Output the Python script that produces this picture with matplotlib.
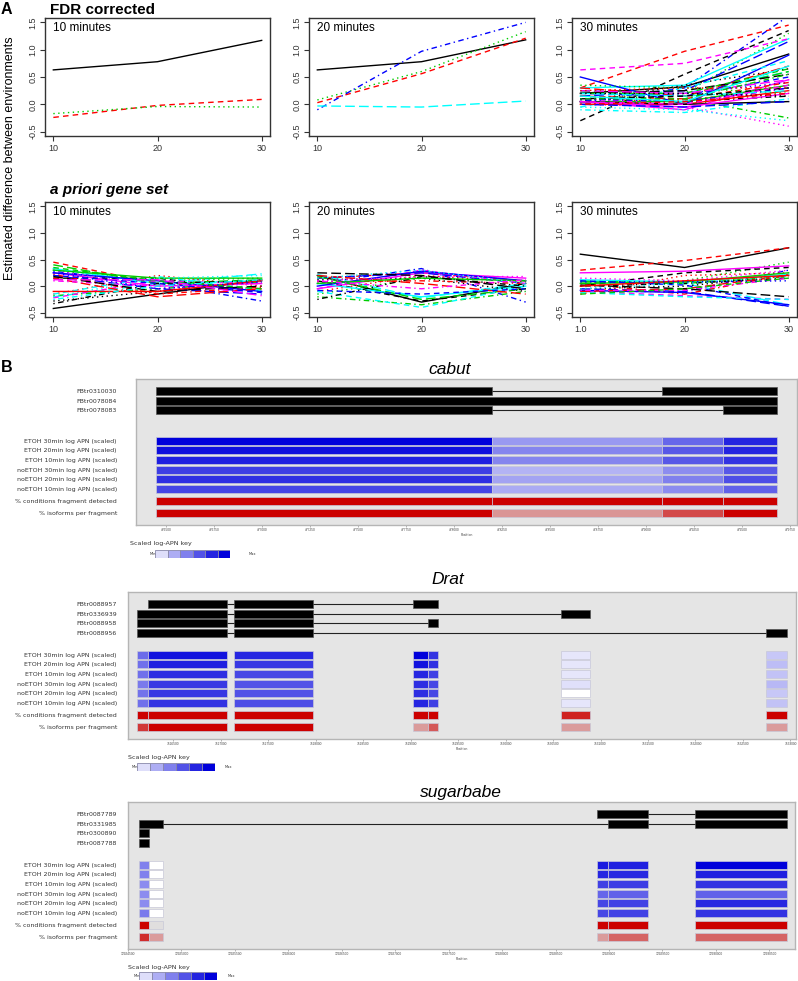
# Panel A: time course of estimated differences, panel B: fragment heatmaps for 3 genes
import matplotlib
matplotlib.use("Agg")
import matplotlib.pyplot as plt
import matplotlib.ticker as mticker
from matplotlib.patches import Rectangle

plt.rcParams['font.family'] = ['Liberation Sans', 'DejaVu Sans']

# ---------------- panel A data (one triple per gene: 10, 20, 30 min) ----------------
times = [10, 20, 30]
yticks = [-0.5, 0.0, 0.5, 1.0, 1.5]

fdr_10 = [[0.63, 0.78, 1.17], [-0.24, -0.02, 0.09], [-0.17, -0.04, -0.05]]
fdr_20 = [[0.63, 0.78, 1.18], [0.03, 0.56, 1.21], [0.08, 0.60, 1.33],
          [-0.10, 0.97, 1.50], [-0.03, -0.05, 0.06]]
fdr_30 = [[0.20, 0.32, 0.92], [0.30, 0.97, 1.45], [0.10, 0.20, 1.30], [0.05, 0.30, 1.62],
          [0.25, 0.20, 0.60], [0.05, -0.10, 0.45], [-0.30, 0.55, 1.35], [0.10, 0.05, 0.35],
          [0.15, 0.10, -0.25], [0.15, 0.25, 1.15], [0.30, 0.35, 1.20], [0.63, 0.75, 1.20],
          [0.05, 0.35, 0.65], [0.00, 0.10, 0.20], [0.25, 0.15, 0.60], [0.50, 0.00, 0.90],
          [-0.05, 0.30, 0.80], [0.00, -0.05, -0.40], [0.10, 0.05, 0.15], [0.30, 0.15, 0.70],
          [0.05, 0.05, 0.35], [0.20, 0.15, 0.50], [-0.05, -0.10, -0.30], [0.10, 0.00, 0.30],
          [0.20, 0.25, 0.55], [0.00, 0.00, 0.25], [0.20, 0.20, 0.65], [0.05, 0.20, 0.40],
          [-0.10, -0.15, 0.10], [0.25, 0.20, 0.45], [0.05, 0.00, 0.05], [0.15, 0.10, 0.40],
          [0.35, 0.30, 0.20], [0.10, 0.05, 0.30], [0.20, 0.15, 0.25], [0.05, -0.05, 0.20],
          [0.10, 0.15, 0.30], [0.25, 0.30, 0.30], [0.10, 0.10, 0.55], [0.00, -0.05, 0.05],
          [0.15, 0.05, 0.70], [0.05, 0.00, 0.35], [0.20, 0.20, 0.15], [0.00, 0.05, 0.20]]
apriori_10 = [[-0.42, -0.15, 0.12], [0.45, 0.05, -0.05], [0.30, 0.10, 0.15], [0.28, 0.05, -0.28],
              [-0.20, 0.05, 0.23], [0.25, 0.00, 0.05], [0.15, 0.15, -0.10], [-0.15, 0.20, 0.00],
              [-0.18, -0.05, 0.08], [0.20, -0.05, -0.15], [0.33, 0.05, 0.10], [-0.22, 0.10, 0.05],
              [-0.28, -0.10, 0.10], [0.22, -0.15, -0.02], [0.40, 0.05, 0.12], [0.25, 0.10, -0.10],
              [-0.15, 0.18, -0.08], [0.30, -0.05, 0.05], [-0.33, 0.05, 0.10], [0.15, -0.20, -0.05],
              [0.30, 0.15, 0.15], [0.20, 0.05, -0.12], [-0.20, 0.15, 0.20], [0.10, 0.00, 0.05],
              [0.18, -0.10, 0.00], [-0.10, -0.10, 0.10], [0.35, 0.10, -0.05], [0.25, -0.05, 0.08],
              [-0.25, 0.00, 0.12], [0.12, 0.12, -0.18]]
apriori_20 = [[0.20, -0.30, 0.05], [0.15, 0.25, 0.10], [-0.15, 0.15, 0.10], [0.05, 0.33, -0.30],
              [0.22, -0.22, 0.05], [-0.05, 0.25, 0.15], [0.10, -0.28, -0.05], [-0.10, 0.20, 0.08],
              [-0.20, -0.35, -0.10], [0.15, 0.25, 0.05], [0.05, -0.20, 0.00], [-0.05, 0.30, 0.05],
              [0.12, 0.15, -0.10], [0.08, 0.10, 0.05], [0.18, -0.25, -0.05], [0.00, 0.28, 0.10],
              [-0.10, -0.40, 0.00], [0.10, 0.18, 0.18], [-0.25, 0.18, 0.00], [0.20, 0.05, -0.15],
              [0.05, 0.15, 0.10], [-0.08, -0.15, -0.05], [0.15, 0.30, 0.05], [0.10, -0.05, 0.12],
              [0.25, 0.20, -0.05]]
apriori_30 = [[0.60, 0.35, 0.72], [0.30, 0.48, 0.72], [0.05, 0.10, 0.45], [-0.10, -0.10, 0.30],
              [0.10, 0.05, -0.35], [0.25, 0.28, 0.38], [0.00, 0.25, 0.35], [-0.15, 0.20, 0.25],
              [0.10, 0.05, 0.20], [-0.05, -0.10, -0.38], [0.12, 0.08, 0.22], [-0.10, -0.18, -0.25],
              [-0.05, 0.00, 0.20], [0.05, -0.15, 0.22], [0.08, 0.05, 0.18], [-0.08, -0.12, -0.35],
              [-0.12, -0.20, -0.25], [0.15, 0.10, 0.30], [0.00, 0.05, 0.15], [-0.10, -0.05, 0.20],
              [0.05, 0.08, 0.25], [0.10, 0.02, -0.38], [-0.05, 0.05, 0.18], [-0.08, -0.08, 0.15],
              [0.02, -0.05, -0.20], [0.00, 0.10, 0.20], [-0.15, -0.05, 0.15], [0.08, 0.08, 0.10]]

# ---------------- panel B data ----------------
row_labels = ["ETOH 30min log APN (scaled)", "ETOH 20min log APN (scaled)",
              "ETOH 10min log APN (scaled)", "noETOH 30min log APN (scaled)",
              "noETOH 20min log APN (scaled)", "noETOH 10min log APN (scaled)",
              "% conditions fragment detected", "% isoforms per fragment"]
key_levels = [0.13, 0.32, 0.50, 0.68, 0.86, 1.0]

cabut_xlim = (476344, 479786)
cabut_ticks = list(range(476500, 479751, 250))
cabut_tx = ["FBtr0310030", "FBtr0078084", "FBtr0078083"]
cabut_exons = [[(476450, 478200), (479085, 479680)],
               [(476450, 479680)],
               [(476450, 478200), (479400, 479680)]]
cabut_frags = [(476450, 478200), (478200, 479085), (479085, 479400), (479400, 479680)]
cabut_apn = [[1.00, 0.94, 0.88, 0.76, 0.82, 0.73],
             [0.40, 0.48, 0.48, 0.30, 0.36, 0.33],
             [0.60, 0.66, 0.66, 0.45, 0.50, 0.45],
             [0.86, 0.86, 0.80, 0.66, 0.70, 0.62]]
cabut_detect = [1.0, 1.0, 1.0, 1.0]
cabut_iso = [1.0, 0.33, 0.67, 1.0]

drat_xlim = (7526026, 7533058)
drat_ticks = list(range(7526500, 7533001, 500))
drat_tx = ["FBtr0088957", "FBtr0336939", "FBtr0088958", "FBtr0088956"]
drat_exons = [[(7526237, 7527068), (7527142, 7527974), (7529026, 7529289)],
              [(7526121, 7527068), (7527142, 7527974), (7530584, 7530889)],
              [(7526121, 7527068), (7527142, 7527974), (7529184, 7529289)],
              [(7526121, 7527068), (7527142, 7527974), (7532742, 7532963)]]
drat_frags = [(7526121, 7526237), (7526237, 7527068), (7527142, 7527974), (7529026, 7529184),
              (7529184, 7529289), (7530584, 7530889), (7532742, 7532963)]
drat_apn = [[0.58, 0.56, 0.56, 0.52, 0.55, 0.56],
            [0.93, 0.88, 0.82, 0.78, 0.78, 0.80],
            [0.85, 0.78, 0.72, 0.68, 0.68, 0.70],
            [1.00, 0.93, 0.85, 0.82, 0.82, 0.85],
            [0.80, 0.82, 0.75, 0.72, 0.72, 0.75],
            [0.10, 0.10, 0.10, 0.12, 0.00, 0.10],
            [0.22, 0.26, 0.24, 0.28, 0.22, 0.24]]
drat_detect = [1.0, 1.0, 1.0, 1.0, 1.0, 0.85, 1.0]
drat_iso = [0.75, 1.0, 1.0, 0.30, 0.60, 0.30, 0.30]

sugar_xlim = (12924500, 12930740)
sugar_ticks = list(range(12924500, 12930501, 500))
sugar_tx = ["FBtr0087789", "FBtr0331985", "FBtr0300890", "FBtr0087788"]
sugar_exons = [[(12928886, 12929364), (12929805, 12930667)],
               [(12924603, 12924828), (12928989, 12929364), (12929805, 12930667)],
               [(12924603, 12924697)],
               [(12924603, 12924697)]]
sugar_frags = [(12924603, 12924697), (12924697, 12924828), (12928886, 12928989),
               (12928989, 12929364), (12929805, 12930667)]
sugar_apn = [[0.50, 0.50, 0.45, 0.45, 0.45, 0.52],
             [0.0, 0.0, 0.0, 0.0, 0.0, 0.0],
             [0.90, 0.85, 0.75, 0.60, 0.72, 0.72],
             [0.88, 0.84, 0.76, 0.62, 0.74, 0.74],
             [1.00, 0.88, 0.80, 0.62, 0.84, 0.80]]
sugar_detect = [1.0, 0.0, 1.0, 1.0, 1.0]
sugar_iso = [0.80, 0.30, 0.30, 0.55, 0.55]

# ---------------- drawing ----------------
W, H = 798, 981
fig = plt.figure(figsize=(W / 100, H / 100), dpi=100)

r_cols = ["#000000", "#FF0000", "#00CD00", "#0000FF", "#00FFFF", "#FF00FF"]
r_lty = ["-", (0, (4, 3)), (0, (1, 2.5)), (0, (1, 2.5, 4, 2.5)), (0, (7, 3))]


def fig_ax(x0, y0, x1, y1):
    # axes from pixel box (top-left origin)
    return fig.add_axes([x0 / W, 1 - y1 / H, (x1 - x0) / W, (y1 - y0) / H])


def r_panel(box, series, label, xlabels=("10", "20", "30")):
    ax = fig_ax(*box)
    for k, vals in enumerate(series):
        ax.plot(times, vals, color=r_cols[k % 6], ls=r_lty[k % 5], lw=1.0)
    ax.set_xlim(9.2, 30.8)
    ax.set_ylim(-0.58, 1.58)
    ax.set_xticks(times, list(xlabels))
    ax.set_yticks(yticks, ["-0.5", "0.0", "0.5", "1.0", "1.5"])
    ax.tick_params(direction='out', length=3.5, width=0.8, labelsize=6.5, pad=2,
                   color='#333333', labelcolor='#333333')
    ax.tick_params(axis='y', labelrotation=90)
    for lbl in ax.get_yticklabels():
        lbl.set_va('center')
    for s in ax.spines.values():
        s.set_linewidth(1.0)
        s.set_color('#333333')
    ax.text(0.035, 0.965, label, transform=ax.transAxes, ha='left', va='top', fontsize=8.5)
    return ax


def blue(v):
    return (1 - v, 1 - v, 1 - 0.14 * v)


def red(v):
    return (0.88 - 0.08 * v, 0.87 * (1 - v), 0.87 * (1 - v))


def gene_panel(box, xlim, ticks, names, exons, frags, apn, detected, isoforms):
    x0, y0, x1, y1 = box
    ax = fig_ax(*box)
    hgt = y1 - y0
    ax.set_xlim(*xlim)
    ax.set_ylim(hgt, 0)
    ax.set_facecolor('#e5e5e5')
    tx_y = [12 + 9.6 * i for i in range(len(names))]
    heat_y = [hgt - 36 - 9.7 * (5 - j) for j in range(6)] + [hgt - 24, hgt - 12]
    for y, ex in zip(tx_y, exons):
        for (a, b), (c, d) in zip(ex[:-1], ex[1:]):
            ax.plot([b, c], [y, y], color='#222222', lw=0.8, zorder=2)
        for a, b in ex:
            ax.add_patch(Rectangle((a, y - 4), b - a, 8, fc='black', ec='#555555',
                                   lw=0.5, zorder=3))
    for (a, b), vals, det, iso in zip(frags, apn, detected, isoforms):
        cols = [blue(v) for v in vals] + [red(det), red(iso)]
        for y, c in zip(heat_y, cols):
            ax.add_patch(Rectangle((a, y - 4), b - a, 8, fc=c, ec='#c8c8d8', lw=0.5))
    ax.set_yticks(tx_y + heat_y, names + row_labels, family='DejaVu Sans')
    ax.tick_params(axis='y', length=0, pad=(x0 - 117) * 0.72, labelsize=4.5,
                   labelcolor='#333333')
    ax.set_xticks(ticks)
    ax.xaxis.set_major_formatter(mticker.FormatStrFormatter('%d'))
    ax.tick_params(axis='x', length=1.5, width=0.4, pad=1, labelsize=2.3,
                   color='#777777', labelcolor='#444444')
    ax.set_xlabel('Position', fontsize=2.3, labelpad=0.5, color='#444444',
                  family='DejaVu Sans')
    for s in ax.spines.values():
        s.set_color('#b5b5b5')
        s.set_linewidth(1.0)
    return ax


def apn_key(text_xy, box, max_x):
    fig.text(text_xy[0] / W, 1 - text_xy[1] / H, 'Scaled log-APN key', fontsize=4.6,
             va='center', color='#333333', family='DejaVu Sans')
    kx = fig_ax(*box)
    for i, v in enumerate(key_levels):
        kx.add_patch(Rectangle((i, 0), 1, 1, fc=blue(v), ec='#8888aa', lw=0.6))
    kx.set_xlim(0, 6)
    kx.set_ylim(0, 1)
    kx.axis('off')
    yc = 1 - (box[1] + box[3]) / 2 / H
    fig.text((box[0] + 1) / W, yc, 'Min', fontsize=2.6, ha='right', va='center',
             color='#333333', family='DejaVu Sans')
    fig.text(max_x / W, yc, 'Max', fontsize=2.6, ha='left', va='center',
             color='#333333', family='DejaVu Sans')


# panel A
fig.text(1 / W, 1 - 9 / H, 'A', fontsize=11.5, fontweight='bold', va='center')
fig.text(50 / W, 1 - 10 / H, 'FDR corrected', fontsize=11, fontweight='bold', va='center')
fig.text(50 / W, 1 - 190 / H, 'a priori gene set', fontsize=11, fontweight='bold',
         style='italic', va='center')
fig.text(10 / W, 1 - 158 / H, 'Estimated difference between environments', fontsize=9,
         rotation=90, ha='center', va='center')

r_panel((45, 18, 270, 136), fdr_10, '10 minutes')
r_panel((309, 18, 534, 136), fdr_20, '20 minutes')
r_panel((572, 18, 797, 136), fdr_30, '30 minutes')
r_panel((45, 202, 270, 317), apriori_10, '10 minutes')
r_panel((309, 202, 534, 317), apriori_20, '20 minutes')
r_panel((572, 202, 797, 317), apriori_30, '30 minutes', ("1.0", "20", "30"))

# panel B
fig.text(1 / W, 1 - 367 / H, 'B', fontsize=11.5, fontweight='bold', va='center')

fig.text(450 / W, 1 - 370 / H, 'cabut', fontsize=12.5, style='italic', ha='center', va='center')
gene_panel((136, 379, 797, 525), cabut_xlim, cabut_ticks, cabut_tx, cabut_exons,
           cabut_frags, cabut_apn, cabut_detect, cabut_iso)
apn_key((130, 544), (155, 550, 230, 558), 249)

fig.text(448 / W, 1 - 580 / H, 'Drat', fontsize=12.5, style='italic', ha='center', va='center')
gene_panel((128, 592, 796, 739), drat_xlim, drat_ticks, drat_tx, drat_exons,
           drat_frags, drat_apn, drat_detect, drat_iso)
apn_key((128, 757), (137, 763, 215, 771), 225)

fig.text(461 / W, 1 - 792 / H, 'sugarbabe', fontsize=12.5, style='italic', ha='center',
         va='center')
gene_panel((128, 802, 795, 949), sugar_xlim, sugar_ticks, sugar_tx, sugar_exons,
           sugar_frags, sugar_apn, sugar_detect, sugar_iso)
apn_key((128, 967), (139, 972, 217, 980), 228)

fig.savefig('out.png', dpi=100)
